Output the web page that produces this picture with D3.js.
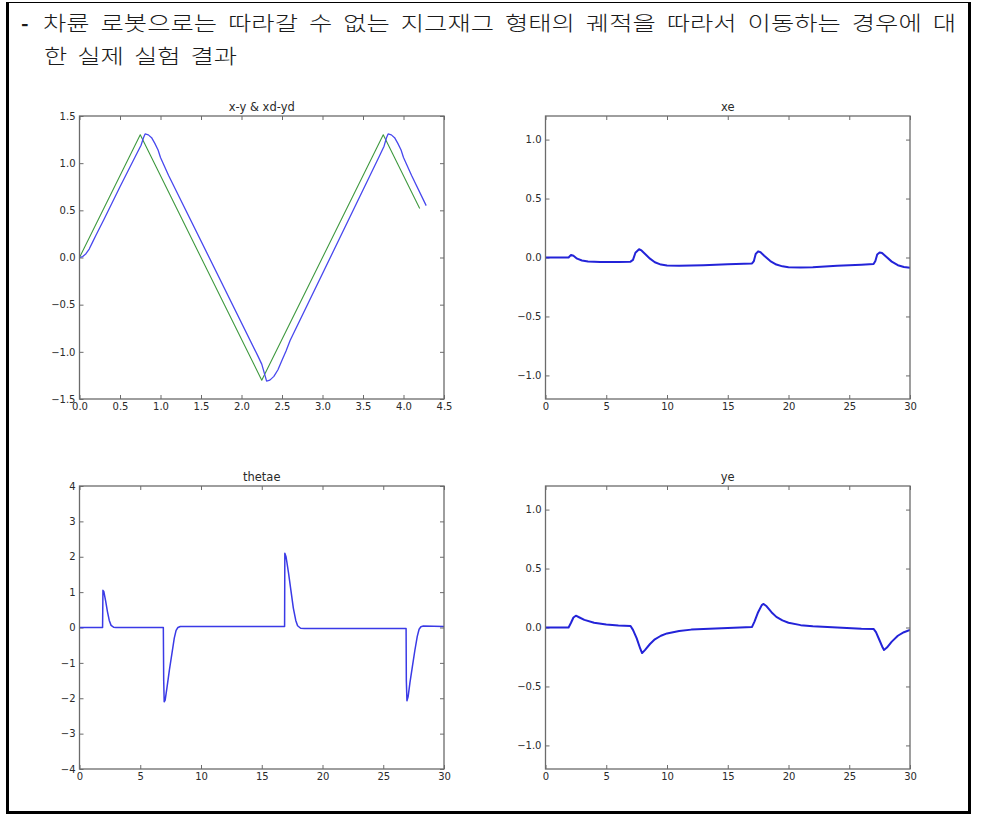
<!DOCTYPE html>
<html>
<head>
<meta charset="utf-8">
<script src="https://cdn.jsdelivr.net/npm/d3@7"></script>
<style>
  html, body { margin: 0; padding: 0; background: #fff; }
  svg { display: block; }
</style>
</head>
<body>
<svg id="chart" width="981" height="825"></svg>
<script>
// ---------------- DATA ----------------
const headerLine1 = ["차륜", "로봇으로는", "따라갈", "수", "없는", "지그재그", "형태의", "궤적을", "따라서", "이동하는", "경우에", "대"];
const headerLine2 = ["한", "실제", "실험", "결과"];

const panelTitles = ["x-y & xd-yd", "xe", "thetae", "ye"];

const xyTicksX = [0.0, 0.5, 1.0, 1.5, 2.0, 2.5, 3.0, 3.5, 4.0, 4.5];
const xyTicksY = [-1.5, -1.0, -0.5, 0.0, 0.5, 1.0, 1.5];
const timeTicks = [0, 5, 10, 15, 20, 25, 30];
const errTicksY = [-1.0, -0.5, 0.0, 0.5, 1.0];
const thetaTicksY = [-4, -3, -2, -1, 0, 1, 2, 3, 4];

// desired trajectory (green)
const desiredX = [0.0, 0.75, 2.25, 3.75, 4.2];
const desiredY = [0.0, 1.30, -1.30, 1.30, 0.52];

// actual trajectory (blue)
const actualX = [0.0, 0.04, 0.08, 0.12, 0.16, 0.2, 0.3, 0.5, 0.7, 0.76, 0.79, 0.81, 0.85, 0.89, 0.93, 0.97, 1.0, 1.1,
                 2.2, 2.25, 2.28, 2.31, 2.35, 2.4, 2.45, 2.5, 2.55, 2.6,
                 3.7, 3.76, 3.79, 3.81, 3.85, 3.89, 3.93, 3.97, 4.0, 4.1, 4.28];
const actualY = [0.0, 0.01, 0.04, 0.09, 0.16, 0.23, 0.40, 0.75, 1.09, 1.19, 1.27, 1.31, 1.30, 1.27, 1.21, 1.14, 1.06, 0.87,
                 -1.04, -1.13, -1.22, -1.31, -1.30, -1.26, -1.19, -1.09, -0.99, -0.88,
                 1.07, 1.18, 1.27, 1.31, 1.30, 1.27, 1.21, 1.14, 1.06, 0.87, 0.55];

// xe over time
const xeT = [0, 1.9, 2.1, 2.3, 2.6, 3.0, 3.5, 4.5, 6, 7.0, 7.2, 7.4, 7.7, 7.9, 8.2, 8.6, 9.0, 9.5, 10, 11, 13, 15, 17,
             17.15, 17.3, 17.5, 17.7, 18, 18.5, 19, 19.5, 20, 21, 22, 24, 26, 27,
             27.15, 27.3, 27.5, 27.7, 28, 28.5, 29, 29.5, 30];
const xeV = [0, 0, 0.022, 0.015, -0.01, -0.025, -0.033, -0.038, -0.038, -0.035, -0.02, 0.04, 0.07, 0.06, 0.03, -0.01, -0.04, -0.06, -0.068, -0.07, -0.065, -0.058, -0.05,
             -0.03, 0.03, 0.052, 0.045, 0.015, -0.03, -0.06, -0.075, -0.083, -0.085, -0.083, -0.07, -0.062, -0.056,
             -0.03, 0.025, 0.042, 0.038, 0.01, -0.035, -0.065, -0.08, -0.088];

// thetae over time
const thT = [0, 1.9, 1.93, 2.0, 2.15, 2.3, 2.45, 2.6, 2.8, 3.0, 6.9, 6.93, 6.97, 7.05, 7.2, 7.4, 7.6, 7.8, 7.95, 8.1, 8.3,
             16.88, 16.9, 17.0, 17.2, 17.4, 17.6, 17.8, 17.95, 18.2, 18.5,
             26.88, 26.9, 26.95, 27.05, 27.2, 27.4, 27.6, 27.8, 27.95, 28.1, 28.3, 30];
const thV = [0, 0, 1.05, 1.02, 0.75, 0.45, 0.2, 0.06, 0.01, 0, 0, -1.5, -2.1, -2.05, -1.7, -1.2, -0.75, -0.3, -0.08, 0.0, 0.03,
             0.03, 2.1, 2.0, 1.55, 1.05, 0.55, 0.2, 0.05, -0.02, -0.03,
             -0.03, -1.5, -2.07, -1.95, -1.55, -1.1, -0.65, -0.25, -0.05, 0.02, 0.04, 0.03];

// ye over time
const yeT = [0, 1.9, 2.1, 2.3, 2.5, 2.8, 3.2, 4, 5, 6, 7.0, 7.2, 7.5, 7.8, 7.95, 8.2, 8.6, 9, 9.5, 10, 11, 12, 14, 16, 17,
             17.2, 17.5, 17.8, 17.95, 18.2, 18.6, 19, 19.5, 20, 21, 22, 24, 26, 27,
             27.2, 27.5, 27.75, 27.86, 28.1, 28.5, 29, 29.5, 30];
const yeV = [0, 0, 0.04, 0.085, 0.1, 0.085, 0.065, 0.04, 0.025, 0.017, 0.013, -0.02, -0.09, -0.18, -0.217, -0.19, -0.14, -0.1, -0.07, -0.05, -0.03, -0.018, -0.008, 0.0, 0.005,
             0.05, 0.13, 0.19, 0.2, 0.18, 0.13, 0.09, 0.06, 0.04, 0.02, 0.01, 0.0, -0.01, -0.012,
             -0.04, -0.11, -0.17, -0.19, -0.17, -0.12, -0.07, -0.04, -0.02];

// ---------------- DRAW ----------------
const svg = d3.select("#chart");
svg.append("rect").attr("width", 981).attr("height", 825).attr("fill", "#fff");

// outer box
svg.append("line").attr("x1", 7).attr("x2", 971).attr("y1", 2.5).attr("y2", 2.5).attr("stroke", "#000").attr("stroke-width", 1.2);
svg.append("line").attr("x1", 7.5).attr("x2", 7.5).attr("y1", 2).attr("y2", 814).attr("stroke", "#000").attr("stroke-width", 3);
svg.append("line").attr("x1", 969.5).attr("x2", 969.5).attr("y1", 2).attr("y2", 814).attr("stroke", "#000").attr("stroke-width", 3);
svg.append("line").attr("x1", 6).attr("x2", 971).attr("y1", 812.5).attr("y2", 812.5).attr("stroke", "#000").attr("stroke-width", 3);

// header text
const krFont = "'Noto Sans CJK KR', sans-serif";
const hdr = svg.append("g").attr("font-family", krFont).attr("font-size", 20.5)
  .attr("font-weight", 300).attr("fill", "#1a1a1a");
hdr.append("text").attr("x", 21).attr("y", 31).attr("font-weight", 700).text("-");

const charAdvance = 23.3;
function layoutWords(words, y, x0, x1, gap) {
  const widths = words.map(w => Array.from(w).length * charAdvance);
  const total = d3.sum(widths);
  const g = (x1 != null) ? (x1 - x0 - total) / (words.length - 1) : gap;
  let x = x0;
  words.forEach((w, i) => {
    hdr.append("text").attr("x", x).attr("y", y)
      .attr("textLength", widths[i]).attr("lengthAdjust", "spacingAndGlyphs")
      .text(w);
    x += widths[i] + g;
  });
}
layoutWords(headerLine1, 31, 43, 956, null);
layoutWords(headerLine2, 64, 44, null, 10);

// panels
const panels = [
  { x0: 79.5, x1: 444, y0: 116, y1: 399, xd: [0, 4.5], yd: [-1.5, 1.5], xt: xyTicksX, yt: xyTicksY, xf: ".1f", yf: ".1f" },
  { x0: 545.5, x1: 910, y0: 116, y1: 399, xd: [0, 30], yd: [-1.2, 1.2], xt: timeTicks, yt: errTicksY, xf: "d", yf: ".1f" },
  { x0: 79.5, x1: 444, y0: 486, y1: 769, xd: [0, 30], yd: [-4, 4], xt: timeTicks, yt: thetaTicksY, xf: "d", yf: "d" },
  { x0: 545.5, x1: 910, y0: 486, y1: 769, xd: [0, 30], yd: [-1.2, 1.2], xt: timeTicks, yt: errTicksY, xf: "d", yf: ".1f" }
];

const axisColor = "#6b6b6b";
const labelColor = "#2a2a2a";

panels.forEach((p, i) => {
  p.x = d3.scaleLinear().domain(p.xd).range([p.x0, p.x1]);
  p.y = d3.scaleLinear().domain(p.yd).range([p.y1, p.y0]);
  const g = svg.append("g");
  p.g = g;

  const styleAxis = (sel, hideLabels) => {
    sel.select(".domain").remove();
    sel.selectAll(".tick line").attr("stroke", axisColor).attr("stroke-width", 1);
    sel.selectAll(".tick text").attr("fill", labelColor)
      .attr("font-family", "'DejaVu Sans', sans-serif").attr("font-size", 10);
    if (hideLabels) sel.selectAll(".tick text").remove();
  };

  g.append("g").attr("transform", `translate(0,${p.y1})`)
    .call(d3.axisBottom(p.x).tickValues(p.xt).tickFormat(d3.format(p.xf)).tickSize(-4).tickPadding(4))
    .call(s => styleAxis(s, false));
  g.append("g").attr("transform", `translate(0,${p.y0})`)
    .call(d3.axisTop(p.x).tickValues(p.xt).tickSize(-4))
    .call(s => styleAxis(s, true));
  g.append("g").attr("transform", `translate(${p.x0},0)`)
    .call(d3.axisLeft(p.y).tickValues(p.yt).tickFormat(d3.format(p.yf)).tickSize(-4).tickPadding(4))
    .call(s => styleAxis(s, false));
  g.append("g").attr("transform", `translate(${p.x1},0)`)
    .call(d3.axisRight(p.y).tickValues(p.yt).tickSize(-4))
    .call(s => styleAxis(s, true));

  g.append("text")
    .attr("x", (p.x0 + p.x1) / 2).attr("y", p.y0 - 5)
    .attr("text-anchor", "middle")
    .attr("font-family", "'DejaVu Sans', sans-serif").attr("font-size", 11.5)
    .attr("fill", labelColor)
    .text(panelTitles[i]);

  g.append("clipPath").attr("id", "clip" + i)
    .append("rect").attr("x", p.x0).attr("y", p.y0).attr("width", p.x1 - p.x0).attr("height", p.y1 - p.y0);
});

function drawSeries(p, xs, ys, color, width, idx) {
  const pts = xs.map((x, k) => [x, ys[k]]);
  const line = d3.line().x(d => p.x(d[0])).y(d => p.y(d[1]));
  p.g.append("path").datum(pts)
    .attr("clip-path", `url(#clip${idx})`)
    .attr("fill", "none").attr("stroke", color).attr("stroke-width", width)
    .attr("stroke-linejoin", "round").attr("d", line);
}

drawSeries(panels[0], desiredX, desiredY, "#3f993f", 1.1, 0);
drawSeries(panels[0], actualX, actualY, "#4848ee", 1.3, 0);
drawSeries(panels[1], xeT, xeV, "#2323d8", 2, 1);
drawSeries(panels[2], thT, thV, "#3a3ae6", 1.5, 2);
drawSeries(panels[3], yeT, yeV, "#2323d8", 2, 3);

// frames on top
panels.forEach(p => {
  p.g.append("rect").attr("x", p.x0).attr("y", p.y0)
    .attr("width", p.x1 - p.x0).attr("height", p.y1 - p.y0)
    .attr("fill", "none").attr("stroke", axisColor).attr("stroke-width", 1.3);
});
</script>
</body>
</html>
